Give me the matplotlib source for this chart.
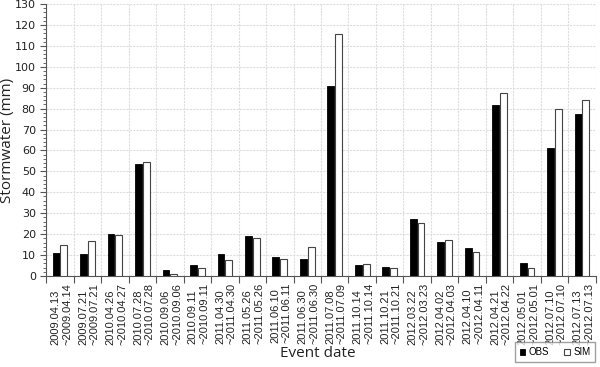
import numpy as np
import matplotlib.pyplot as plt
from matplotlib.ticker import MultipleLocator

obs_dates = ["2009.04.13", "2009.07.21", "2010.04.26", "2010.07.28", "2010.09.06",
             "2010.09.11", "2011.04.30", "2011.05.26", "2011.06.10", "2011.06.30",
             "2011.07.08", "2011.10.14", "2011.10.21", "2012.03.22", "2012.04.02",
             "2012.04.10", "2012.04.21", "2012.05.01", "2012.07.10", "2012.07.13"]
sim_dates = ["~2009.04.14", "~2009.07.21", "~2010.04.27", "~2010.07.28", "~2010.09.06",
             "~2010.09.11", "~2011.04.30", "~2011.05.26", "~2011.06.11", "~2011.06.30",
             "~2011.07.09", "~2011.10.14", "~2011.10.21", "~2012.03.23", "~2012.04.03",
             "~2012.04.11", "~2012.04.22", "~2012.05.01", "~2012.07.10", "~2012.07.13"]
obs = [11, 10.5, 20, 53.5, 3, 5.2, 10.7, 19.3, 9, 8.2,
       91, 5.2, 4.5, 27.3, 16.4, 13.5, 81.5, 6.3, 61, 77.5]
sim = [15, 16.5, 19.5, 54.5, 1, 4, 7.7, 18, 8.3, 13.8,
       115.5, 5.8, 3.8, 25.5, 17.3, 11.7, 87.7, 4, 79.8, 84]

labels = [a + "\n" + b for a, b in zip(obs_dates, sim_dates)]
x = np.arange(len(labels))

fig = plt.figure(figsize=(6, 3.67), dpi=100)
ax = fig.add_axes([0.077, 0.248, 0.916, 0.741])

w = 0.25
ax.bar(x - 0.14, obs, w, color='black', edgecolor='black', linewidth=0.6, label='OBS', zorder=3)
ax.bar(x + 0.14, sim, w, color='white', edgecolor='#444444', linewidth=0.8, label='SIM', zorder=3)

ax.set_xlim(-0.5, len(labels) - 0.5)
ax.set_ylim(0, 130)
ax.yaxis.set_major_locator(MultipleLocator(10))
ax.yaxis.set_minor_locator(MultipleLocator(2))
ax.set_xticks(x + 0.05)
ax.set_xticklabels(labels, rotation=90, fontsize=8, color='#222222', family='Liberation Sans',
                   multialignment='left', linespacing=1.2)
ax.set_xticks(np.arange(-0.5, len(labels)), minor=True)
ax.tick_params(axis='x', which='major', length=0, pad=5)
ax.tick_params(axis='x', which='minor', length=5, width=0.8, color='#555555')
ax.tick_params(axis='y', which='major', length=4, labelsize=8, labelcolor='#222222', color='#555555')
ax.tick_params(axis='y', which='minor', length=2.5, color='#555555')

ax.grid(axis='y', which='major', color='#dddddd', linestyle=(0, (2, 1)), linewidth=0.8, zorder=0)
ax.grid(axis='x', which='minor', color='#dddddd', linestyle=(0, (2, 1)), linewidth=0.8, zorder=0)
for s in ['top', 'right']:
    ax.spines[s].set_visible(False)
ax.spines['left'].set_color('#555555')
ax.spines['bottom'].set_color('#555555')

ax.set_ylabel('Stormwater (mm)', fontsize=11, color='#222222', family='Open Sans')
ax.yaxis.set_label_coords(-0.056, 0.5)
fig.text(0.53, 0.038, 'Event date', fontsize=11, color='#222222', family='Open Sans',
         ha='center', va='center')

leg = fig.legend(loc='lower right', bbox_to_anchor=(1.0, 0.0), ncol=2,
                 prop={'family': 'Liberation Sans', 'size': 7},
                 handlelength=0.6, handleheight=0.6, handletextpad=0.3, columnspacing=1.6,
                 fancybox=False, edgecolor='#888888', borderpad=0.5)

plt.savefig('out.png', dpi=100)
